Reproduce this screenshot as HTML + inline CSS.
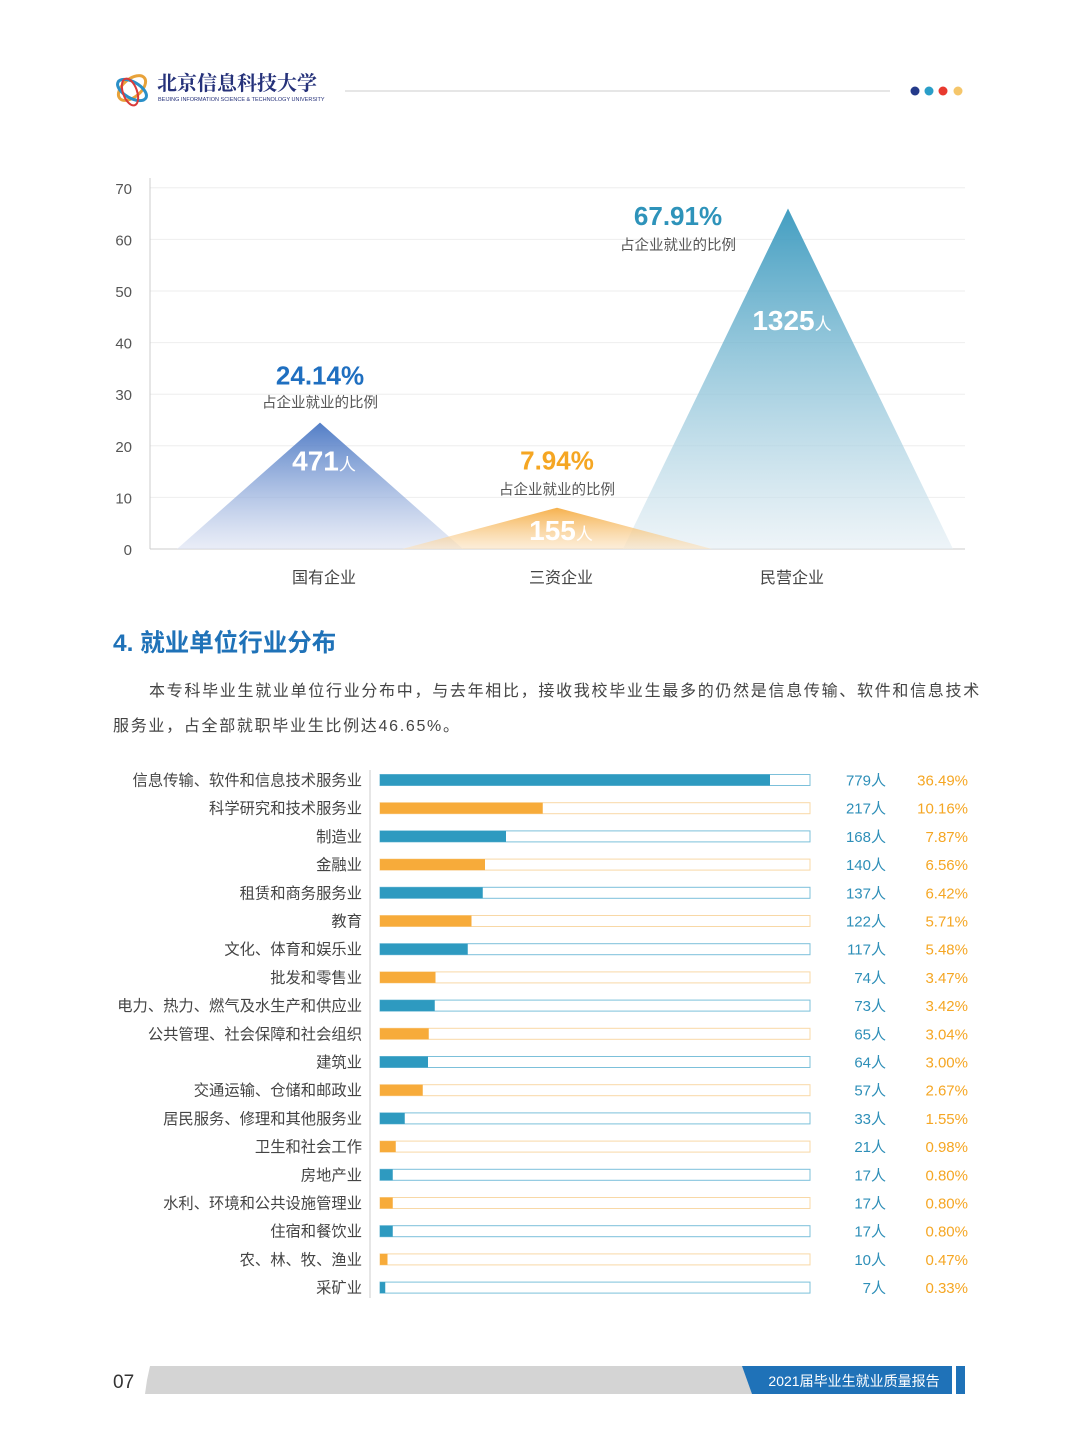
<!DOCTYPE html>
<html><head><meta charset="utf-8">
<style>
body{margin:0;background:#fff;}
#page{position:relative;width:1080px;height:1455px;overflow:hidden;font-family:"Liberation Sans","Noto Sans CJK SC",sans-serif;}
.abs{position:absolute;}
</style></head>
<body>
<div id="page">
<!-- header -->
<svg class="abs" style="left:0;top:0" width="1080" height="130">
  <g>
    <ellipse cx="132" cy="88" rx="16" ry="9" fill="none" stroke="#e8a23a" stroke-width="3" transform="rotate(-40 132 88)"/>
    <ellipse cx="132" cy="90" rx="16" ry="8" fill="none" stroke="#2a8fc8" stroke-width="3" transform="rotate(30 132 90)"/>
    <ellipse cx="130" cy="92" rx="14" ry="7" fill="none" stroke="#d83a3a" stroke-width="2" transform="rotate(70 130 92)"/>
  </g>
  <text x="157" y="90" font-size="20" font-weight="bold" fill="#26327a" font-family="'Noto Serif CJK SC',serif">北京信息科技大学</text>
  <text x="158" y="101" font-size="5.5" fill="#26327a">BEIJING INFORMATION SCIENCE &amp; TECHNOLOGY UNIVERSITY</text>
  <line x1="345" y1="91" x2="890" y2="91" stroke="#ddd" stroke-width="1.5"/>
  <circle cx="915" cy="91" r="4.5" fill="#243a8a"/><circle cx="929" cy="91" r="4.5" fill="#2a9ec8"/>
  <circle cx="943" cy="91" r="4.5" fill="#e83a2f"/><circle cx="958" cy="91" r="4.5" fill="#f5c66a"/>
</svg>

<!-- triangle chart -->
<svg id="tri" class="abs" style="left:0;top:160px" width="1080" height="440"></svg>

<div class="abs" style="left:113px;top:624px;font-size:24.5px;font-weight:bold;color:#1f72b8;">4. 就业单位行业分布</div>
<div class="abs" style="left:113px;top:674px;white-space:nowrap;font-size:16px;line-height:35px;color:#444;letter-spacing:1.7px"><span style="display:inline-block;width:36px"></span>本专科毕业生就业单位行业分布中，与去年相比，接收我校毕业生最多的仍然是信息传输、软件和信息技术<br>服务业，占全部就职毕业生比例达46.65%。</div>

<svg id="bars" class="abs" style="left:0;top:760px" width="1080" height="550"></svg>

<!-- footer -->
<svg class="abs" style="left:0;top:1360px" width="1080" height="40">
  <text x="113" y="28" font-size="19" fill="#333">07</text>
  <polygon points="150,6 760,6 760,34 145,34 147,20" fill="#d4d4d4"/>
  <polygon points="742,6 952,6 952,34 752,34" fill="#1f72b8"/>
  <rect x="956" y="6" width="9" height="28" fill="#1f72b8"/>
  <text x="854" y="26" font-size="14" fill="#fff" text-anchor="middle">2021届毕业生就业质量报告</text>
</svg>
</div>
<script>
const NS='http://www.w3.org/2000/svg';
function mk(p,t,a){const e=document.createElementNS(NS,t);for(const k in a)e.setAttribute(k,a[k]);p.appendChild(e);return e;}
// ---- triangle chart data ----
const triCats=['国有企业','三资企业','民营企业'];
const triHeights=[24.5,8,66];
const triPct=['24.14','7.94','67.91'];
const triCount=['471','155','1325'];
const triTicks=[0,10,20,30,40,50,60,70];
const tri=document.getElementById('tri');
const y0=389, yPer=5.16;
const ty=v=>y0-v*yPer;
const centers=[320,557,788], halfW=[143,155,165];
const cols=[['#3f6fc0','#dde3f3'],['#f5a93a','#fbe4c4'],['#2e93ba','#e4eef4']];
const pctCol=['#1f6fc0','#f5a623','#2e93ba'];
const defs=mk(tri,'defs',{});
triTicks.forEach(t=>{
  mk(tri,'line',{x1:150,x2:965,y1:ty(t),y2:ty(t),stroke:'#eee'});
  const tx=mk(tri,'text',{x:132,y:ty(t)+6,'font-size':15,fill:'#555','text-anchor':'end'});tx.textContent=t;
  
  
});
mk(tri,'line',{x1:150,x2:150,y1:18,y2:y0,stroke:'#ccc'});
mk(tri,'line',{x1:150,x2:965,y1:y0,y2:y0,stroke:'#ccc'});
[0,1,2].forEach(i=>{
  const g=mk(defs,'linearGradient',{id:'g'+i,x1:0,y1:0,x2:0,y2:1});
  mk(g,'stop',{offset:0,'stop-color':cols[i][0]});
  mk(g,'stop',{offset:1,'stop-color':cols[i][1],'stop-opacity':0.7});
});
[2,0,1].forEach(i=>{
  const c=centers[i],h=triHeights[i];
  const p=mk(tri,'polygon',{points:`${c-halfW[i]},${y0} ${c},${ty(h)} ${c+halfW[i]},${y0}`,fill:`url(#g${i})`,opacity:0.9});
  
  
});
[0,1,2].forEach(i=>{
  const c=centers[i],top=ty(triHeights[i]);
  const pt=mk(tri,'text',{x:c,y:0,'font-size':26,'font-weight':'bold',fill:pctCol[i],'text-anchor':'middle','font-family':'Liberation Sans Narrow,Liberation Sans,sans-serif'});
  
  
  pt.textContent=triPct[i]+'%';
  const sub=mk(tri,'text',{x:c,y:0,'font-size':14.5,fill:'#555','text-anchor':'middle'});
  
  
  sub.textContent='占企业就业的比例';
  const cnt=mk(tri,'text',{x:c+4,y:0,'font-size':28,'font-weight':'bold',fill:'#fff','text-anchor':'middle','font-family':'Liberation Sans Narrow,Liberation Sans,sans-serif'});
  
  
  cnt.innerHTML=triCount[i]+'<tspan font-size="17" font-weight="normal">人</tspan>';
  if(i==2){pt.setAttribute('x',678);pt.setAttribute('y',65);sub.setAttribute('x',678);sub.setAttribute('y',90);cnt.setAttribute('y',170);}
  else if(i==1){pt.setAttribute('y',top-38);sub.setAttribute('y',top-13);cnt.setAttribute('y',y0-9);}
  else{pt.setAttribute('y',top-38);sub.setAttribute('y',top-15);cnt.setAttribute('y',top+48);}
  const cl=mk(tri,'text',{x:c+4,y:423,'font-size':16,fill:'#444','text-anchor':'middle'});
  
  
  cl.textContent=triCats[i];
});
// ---- industry bars ----
const inds=['信息传输、软件和信息技术服务业','科学研究和技术服务业','制造业','金融业','租赁和商务服务业','教育','文化、体育和娱乐业','批发和零售业','电力、热力、燃气及水生产和供应业','公共管理、社会保障和社会组织','建筑业','交通运输、仓储和邮政业','居民服务、修理和其他服务业','卫生和社会工作','房地产业','水利、环境和公共设施管理业','住宿和餐饮业','农、林、牧、渔业','采矿业'];
const counts=[779,217,168,140,137,122,117,74,73,65,64,57,33,21,17,17,17,10,7];
const pcts=['36.49','10.16','7.87','6.56','6.42','5.71','5.48','3.47','3.42','3.04','3.00','2.67','1.55','0.98','0.80','0.80','0.80','0.47','0.33'];
const bars=document.getElementById('bars');
const bx0=380,bw=430,maxBar=390;
const xs=v=>Math.min(v*0.75,maxBar);
mk(bars,'line',{x1:370,x2:370,y1:10,y2:538,stroke:'#ccc'});
inds.forEach((n,i)=>{
  const cy=20+i*28.2;
  const blue=i%2==0, col=blue?'#2e9ac0':'#f7ab3a';
  const lab=mk(bars,'text',{x:362,y:cy+5.5,'font-size':15.3,fill:'#444','text-anchor':'end'});
  
  
  lab.textContent=n;
  const tr=mk(bars,'rect',{x:bx0,y:cy-5.5,width:bw,height:11,fill:'#fff',stroke:blue?'#7cc0da':'#f8d8a6','stroke-width':1});
  
  
  const b=mk(bars,'rect',{x:bx0,y:cy-5.5,width:xs(counts[i]),height:11,fill:col});
  
  
  const c=mk(bars,'text',{x:886,y:cy+5.5,'font-size':15,fill:'#2e8fb8','text-anchor':'end'});
  
  
  c.textContent=counts[i]+'人';
  const p=mk(bars,'text',{x:968,y:cy+5.5,'font-size':15,fill:'#f5a623','text-anchor':'end'});
  
  
  p.textContent=pcts[i]+'%';
});
</script>
</body></html>
